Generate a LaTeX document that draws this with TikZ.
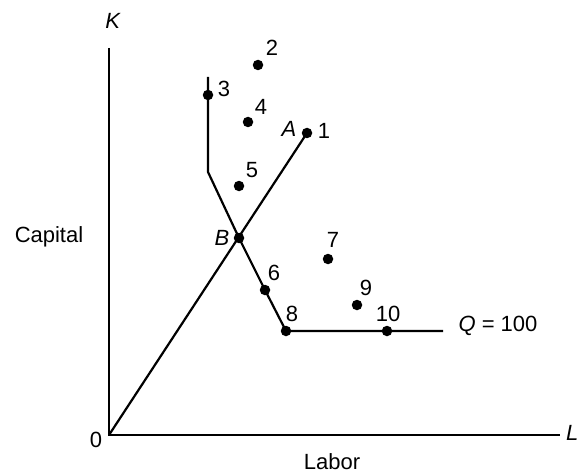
\documentclass[tikz,border=0pt]{standalone}
\usepackage{fontspec}
\setmainfont{Liberation Sans}
\usepackage{tikz}

\begin{document}
\begin{tikzpicture}[x=1pt, y=-1pt, font=\fontsize{22}{26}\selectfont,
  dot/.style={circle, fill, inner sep=0pt, minimum size=10.5pt},
  lbl/.style={anchor=base, inner sep=0pt},
  iso/.style={line width=2.2pt, line join=miter}]
  \useasboundingbox (0,0) rectangle (577,473);
  % axes
  \coordinate (O) at (109,435);
  \coordinate (Ktop) at (109,48);
  \coordinate (Lend) at (560,435);
  \draw[line width=1.4pt] (Ktop) -- (O) -- (Lend);
  \node[lbl] (K) at (113,29) {\textit{K}};
  \node[lbl, anchor=base west] (L) at (566,440) {\textit{L}};
  \node[lbl] (zero) at (96,447) {0};
  \node[lbl] (lab) at (332,469) {Labor};
  \node[lbl] (cap) at (49,242) {Capital};
  % isoquant Q = 100
  \coordinate (top) at (208,77);
  \coordinate (kink) at (208,172);
  \coordinate (qend) at (443,331);
  \node[dot] (B) at (239,238) {};
  \node[dot] (p3) at (208,95) {};
  \node[dot] (p6) at (265,290) {};
  \node[dot] (p8) at (286,331) {};
  \node[dot] (p10) at (387,331) {};
  \draw[iso] (top) -- (kink) -- (B.center) -- (p6.center) -- (p8.center) -- (qend);
  \node[lbl] (qlab) at (498,331) {\textit{Q} = 100};
  % ray through A and B
  \node[dot] (p1) at (307,133) {};
  \draw[iso] (O) -- (p1.center);
  % other input mixes
  \node[dot] (p2) at (258,65) {};
  \node[dot] (p4) at (248,122) {};
  \node[dot] (p5) at (239,186) {};
  \node[dot] (p7) at (328,259) {};
  \node[dot] (p9) at (357,305) {};
  % labels
  \node[lbl] at (272,56) {2};
  \node[lbl] at (224,97) {3};
  \node[lbl] at (261,115) {4};
  \node[lbl] at (324,139) {1};
  \node[lbl] at (289,137) {\textit{A}};
  \node[lbl] at (252,177) {5};
  \node[lbl] at (222,245) {\textit{B}};
  \node[lbl] at (274,280) {6};
  \node[lbl] at (333,247) {7};
  \node[lbl] at (292,321) {8};
  \node[lbl] at (366,295) {9};
  \node[lbl] at (388,321) {10};
\end{tikzpicture}
\end{document}
